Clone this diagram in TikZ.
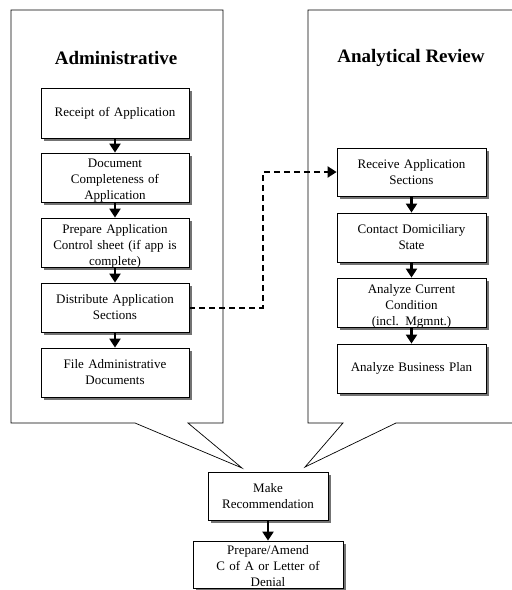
\documentclass[tikz,border=0pt]{standalone}
\usepackage{fontspec}
\setmainfont{Liberation Serif}
\usetikzlibrary{arrows.meta,shadows}
\begin{document}
\begin{tikzpicture}[x=1pt,y=-1pt,
  stepbox/.style={draw=black, line width=0.8pt, fill=white, align=center, inner sep=1pt,
    font=\fontsize{13}{16}\selectfont,
    drop shadow={shadow xshift=3pt, shadow yshift=-3pt, fill=black!55, opacity=1}},
  lowtext/.style={label={[text width=140pt, align=center, font=\fontsize{13}{16}\selectfont, yshift=-3.5pt]center:#1}},
  lowtextb/.style={label={[text width=140pt, align=center, font=\fontsize{13}{16}\selectfont, yshift=-1.5pt, inner sep=0pt]center:#1}},
  flow/.style={line width=2.2pt, -{Triangle[width=11pt,length=9pt]}},
  callout/.style={draw=black, line width=0.7pt},
  title/.style={font=\fontsize{19}{22}\bfseries\selectfont}]
\useasboundingbox (0,0) rectangle (512,590);
\begin{scope}
\clip (0,0) rectangle (512,590);
% callouts
\draw[callout] (11,10) -- (223,10) -- (223,423) -- (188,423) -- (242,468) -- (135,423) -- (11,423) -- cycle;
\draw[callout] (308,10) -- (530,10) -- (530,423) -- (396,423) -- (305,467) -- (343,423) -- (308,423) -- cycle;

\node[title] (tadm) at (116,58) {Administrative};
\node[title] (tana) at (411,58) {Analytical Review};

% left boxes
\node[stepbox, minimum width=148pt, minimum height=50pt, text width=140pt] (l1) at (115,113) {Receipt of Application};
\node[stepbox, minimum width=148pt, minimum height=49pt, text width=140pt,
  lowtext={Document\\Completeness of\\Application}] (l2) at (115,177.5) {};
\node[stepbox, minimum width=148pt, minimum height=49pt, text width=140pt,
  lowtext={Prepare Application\\Control sheet (if app is\\complete)}] (l3) at (115,242.5) {};
\node[stepbox, minimum width=148pt, minimum height=49pt, text width=140pt] (l4) at (115,307.5) {Distribute Application\\Sections};
\node[stepbox, minimum width=148pt, minimum height=49pt, text width=140pt] (l5) at (115,372.5) {File Administrative\\Documents};

% right boxes
\node[stepbox, minimum width=149pt, minimum height=48pt, text width=140pt] (r1) at (411.5,172) {Receive Application\\Sections};
\node[stepbox, minimum width=149pt, minimum height=49pt, text width=140pt] (r2) at (411.5,237.5) {Contact Domiciliary\\State};
\node[stepbox, minimum width=149pt, minimum height=49pt, text width=140pt,
  lowtext={Analyze Current\\Condition\\(incl. Mgmnt.)}] (r3) at (411.5,302.5) {};
\node[stepbox, minimum width=149pt, minimum height=49pt, text width=140pt] (r4) at (411.5,368.5) {Analyze Business Plan};

% bottom boxes
\node[stepbox, minimum width=120pt, minimum height=48pt, text width=114pt] (mk) at (268,496) {Make\\Recommendation};
\node[stepbox, minimum width=150pt, minimum height=47pt, text width=140pt,
  lowtextb={Prepare/Amend\\C of A or Letter of\\Denial}] (pa) at (268,564.5) {};

% arrows
\draw[flow] (l1.south) -- (l2.north);
\draw[flow] (l2.south) -- (l3.north);
\draw[flow] (l3.south) -- (l4.north);
\draw[flow] (l4.south) -- (l5.north);
\draw[flow] (r1.south) -- (r2.north);
\draw[flow] (r2.south) -- (r3.north);
\draw[flow] (r3.south) -- (r4.north);
\draw[flow] (mk.south) -- (pa.north);

\coordinate (d1) at (263,307.5);
\coordinate (d2) at (263,172);
\draw[line width=2pt, dash pattern=on 6pt off 4pt, -{Triangle[width=11pt,length=9pt]}]
  (l4.east) -- (d1) -- (d2) -- (r1.west);
\end{scope}
\end{tikzpicture}
\end{document}
